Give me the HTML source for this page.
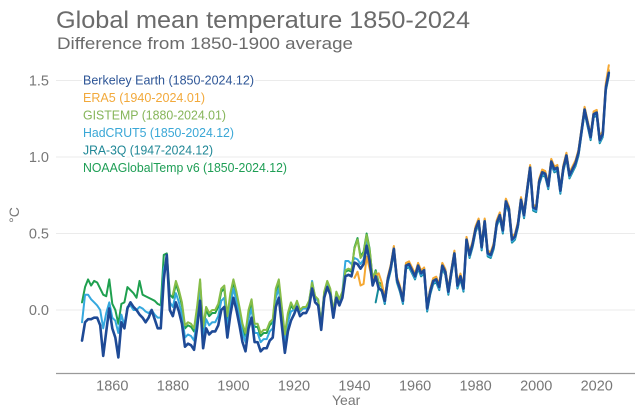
<!DOCTYPE html>
<html>
<head>
<meta charset="utf-8">
<style>
  html,body{margin:0;padding:0;background:#fff;}
  svg{display:block;}
  text{font-family:"Liberation Sans",sans-serif;}
</style>
</head>
<body>
<svg width="640" height="420" viewBox="0 0 640 420" xmlns="http://www.w3.org/2000/svg">
  <rect x="0" y="0" width="640" height="420" fill="#fff"/>

  <!-- Title -->
  <text x="56" y="28" font-size="24" fill="#6b6b6b" textLength="414" lengthAdjust="spacingAndGlyphs">Global mean temperature 1850-2024</text>
  <text x="57" y="49" font-size="17" fill="#6b6b6b" textLength="296" lengthAdjust="spacingAndGlyphs">Difference from 1850-1900 average</text>

  <!-- gridlines -->
  <g stroke="#ebebeb" stroke-width="1">
    <line x1="56" y1="80.5" x2="635" y2="80.5"/>
    <line x1="56" y1="157" x2="635" y2="157"/>
    <line x1="56" y1="233.5" x2="635" y2="233.5"/>
    <line x1="56" y1="310" x2="635" y2="310"/>
  </g>

  <!-- y labels -->
  <g font-size="14.5" fill="#777" text-anchor="end">
    <text x="49" y="85.5">1.5</text>
    <text x="49" y="162">1.0</text>
    <text x="49" y="238.5">0.5</text>
    <text x="49" y="315">0.0</text>
  </g>
  <text transform="translate(19,215) rotate(-90)" font-size="14" fill="#777" text-anchor="middle">°C</text>

  <!-- x axis -->
  <line x1="56" y1="373.5" x2="635" y2="373.5" stroke="#9a9a9a" stroke-width="1.3"/>
  <g font-size="14.5" fill="#777" text-anchor="middle">
    <text x="112.3" y="390.5">1860</text>
    <text x="172.9" y="390.5">1880</text>
    <text x="233.4" y="390.5">1900</text>
    <text x="294" y="390.5">1920</text>
    <text x="354.5" y="390.5">1940</text>
    <text x="415.1" y="390.5">1960</text>
    <text x="475.6" y="390.5">1980</text>
    <text x="536.2" y="390.5">2000</text>
    <text x="596.7" y="390.5">2020</text>
  </g>
  <text x="332" y="405" font-size="14" fill="#777">Year</text>

  <defs>
    <polyline id="late" vector-effect="non-scaling-stroke" points="1950,0.06 1951,0.20 1952,0.28 1953,0.40 1954,0.20 1955,0.14 1956,0.06 1957,0.29 1958,0.30 1959,0.26 1960,0.22 1961,0.29 1962,0.24 1963,0.26 1964,0.01 1965,0.12 1966,0.19 1967,0.20 1968,0.15 1969,0.29 1970,0.25 1971,0.12 1972,0.25 1973,0.37 1974,0.16 1975,0.22 1976,0.14 1977,0.46 1978,0.36 1979,0.43 1980,0.53 1981,0.58 1982,0.41 1983,0.58 1984,0.37 1985,0.36 1986,0.42 1987,0.57 1988,0.62 1989,0.52 1990,0.71 1991,0.66 1992,0.46 1993,0.48 1994,0.56 1995,0.72 1996,0.62 1997,0.78 1998,0.93 1999,0.67 2000,0.66 2001,0.84 2002,0.90 2003,0.89 2004,0.81 2005,0.97 2006,0.92 2007,0.93 2008,0.78 2009,0.93 2010,1.01 2011,0.88 2012,0.92 2013,0.96 2014,1.03 2015,1.17 2016,1.31 2017,1.22 2018,1.13 2019,1.28 2020,1.29 2021,1.11 2022,1.15 2023,1.45 2024,1.55"/>
  </defs>

  <g transform="matrix(3.0275 0 0 -153 -5518.85 310)" fill="none" stroke-linejoin="round" stroke-linecap="round">
    <!-- NOAA -->
    <g stroke="#1fa04f" stroke-width="2">
      <polyline vector-effect="non-scaling-stroke" points="1850,0.05 1851,0.15 1852,0.20 1853,0.16 1854,0.19 1855,0.18 1856,0.14 1857,0.10 1858,0.09 1859,0.20 1860,0.04 1861,0.00 1862,-0.09 1863,0.04 1864,0.05 1865,0.15 1866,0.13 1867,0.11 1868,0.08 1869,0.19 1870,0.10 1871,0.09 1872,0.08 1873,0.07 1874,0.06 1875,0.04 1876,0.03 1877,0.36 1878,0.37 1879,0.10 1880,0.08 1881,0.17 1882,0.11 1883,0.03 1884,-0.12 1885,-0.10 1886,-0.11 1887,-0.14 1888,0.00 1889,0.18 1890,-0.13 1891,0.00 1892,-0.04 1893,-0.02 1894,-0.02 1895,0.02 1896,0.12 1897,0.14 1898,-0.06 1899,0.09 1900,0.18 1901,0.10 1902,0.00 1903,-0.11 1904,-0.17 1905,-0.02 1906,0.05 1907,-0.11 1908,-0.11 1909,-0.17 1910,-0.15 1911,-0.15 1912,-0.10 1913,-0.08 1914,0.12 1915,0.18 1916,0.00 1917,-0.18 1918,-0.04 1919,0.03 1920,0.00 1921,0.05 1922,-0.01 1923,0.01 1924,0.01 1925,0.05 1926,0.17 1927,0.08 1928,0.06 1929,-0.10 1930,0.11 1931,0.18 1932,0.13 1933,-0.02 1934,0.11 1935,0.06 1936,0.11 1937,0.25 1938,0.26 1939,0.25 1940,0.41 1941,0.47 1942,0.35 1943,0.38 1944,0.50 1945,0.40 1946,0.20 1947,0.26 1948,0.18 1949,0.17 1950,0.075"/>
      <use href="#late" transform="translate(0,0.012)"/>
    </g>
    <!-- JRA-3Q -->
    <g stroke="#148a9a" stroke-width="2">
      <polyline vector-effect="non-scaling-stroke" points="1947,0.05 1948,0.15 1949,0.12 1950,0.04"/>
      <use href="#late" transform="translate(0,-0.02)"/>
    </g>
    <!-- HadCRUT5 -->
    <g stroke="#35a8de" stroke-width="2">
      <polyline vector-effect="non-scaling-stroke" points="1850,-0.08 1851,0.10 1852,0.10 1853,0.07 1854,0.05 1855,0.03 1856,0.00 1857,-0.12 1858,-0.02 1859,0.05 1860,-0.05 1861,-0.07 1862,-0.15 1863,-0.03 1864,-0.10 1865,0.02 1866,0.03 1867,0.00 1868,0.00 1869,0.02 1870,0.01 1871,-0.01 1872,-0.02 1873,0.00 1874,-0.03 1875,-0.05 1876,-0.05 1877,0.27 1878,0.33 1879,0.05 1880,0.02 1881,0.11 1882,0.05 1883,-0.03 1884,-0.18 1885,-0.16 1886,-0.17 1887,-0.20 1888,-0.06 1889,0.12 1890,-0.19 1891,-0.06 1892,-0.10 1893,-0.08 1894,-0.08 1895,-0.04 1896,0.06 1897,0.08 1898,-0.12 1899,0.03 1900,0.14 1901,0.06 1902,-0.04 1903,-0.15 1904,-0.21 1905,-0.06 1906,0.01 1907,-0.15 1908,-0.15 1909,-0.21 1910,-0.19 1911,-0.19 1912,-0.14 1913,-0.12 1914,0.08 1915,0.14 1916,-0.04 1917,-0.22 1918,-0.08 1919,-0.01 1920,0.00 1921,0.05 1922,-0.01 1923,0.01 1924,0.01 1925,0.05 1926,0.19 1927,0.08 1928,0.06 1929,-0.10 1930,0.11 1931,0.18 1932,0.13 1933,-0.02 1934,0.11 1935,0.06 1936,0.12 1937,0.32 1938,0.32 1939,0.30 1940,0.34 1941,0.33 1942,0.30 1943,0.33 1944,0.45 1945,0.35 1946,0.19 1947,0.25 1948,0.17 1949,0.15 1950,0.05"/>
      <use href="#late" transform="translate(0,-0.012)"/>
    </g>
    <!-- GISTEMP -->
    <g stroke="#86bd48" stroke-width="2">
      <polyline vector-effect="non-scaling-stroke" points="1880,0.10 1881,0.19 1882,0.13 1883,0.05 1884,-0.10 1885,-0.08 1886,-0.09 1887,-0.12 1888,0.02 1889,0.20 1890,-0.11 1891,0.02 1892,-0.02 1893,0.00 1894,0.00 1895,0.04 1896,0.14 1897,0.16 1898,-0.04 1899,0.11 1900,0.20 1901,0.12 1902,0.02 1903,-0.09 1904,-0.15 1905,0.00 1906,0.07 1907,-0.09 1908,-0.09 1909,-0.15 1910,-0.13 1911,-0.13 1912,-0.08 1913,-0.06 1914,0.14 1915,0.20 1916,0.02 1917,-0.16 1918,-0.02 1919,0.05 1920,0.01 1921,0.06 1922,0.00 1923,0.02 1924,0.02 1925,0.06 1926,0.18 1927,0.09 1928,0.07 1929,-0.09 1930,0.12 1931,0.19 1932,0.14 1933,-0.01 1934,0.12 1935,0.07 1936,0.12 1937,0.26 1938,0.27 1939,0.26 1940,0.40 1941,0.46 1942,0.34 1943,0.37 1944,0.49 1945,0.39 1946,0.21 1947,0.25 1948,0.17 1949,0.16 1950,0.07"/>
      <use href="#late" transform="translate(0,0.008)"/>
    </g>
    <!-- ERA5 -->
    <g stroke="#f5a833" stroke-width="2">
      <polyline vector-effect="non-scaling-stroke" points="1940,0.21 1941,0.25 1942,0.16 1943,0.17 1944,0.35 1945,0.27 1946,0.20 1947,0.22 1948,0.24 1949,0.18 1950,0.08"/>
      <use href="#late" transform="translate(0,0.018)"/>
      <polyline vector-effect="non-scaling-stroke" points="2021,1.13 2022,1.17 2023,1.48 2024,1.60"/>
    </g>
    <!-- Berkeley Earth -->
    <g stroke="#1e4a96" stroke-width="2.6">
      <polyline vector-effect="non-scaling-stroke" points="1850,-0.20 1851,-0.08 1852,-0.06 1853,-0.06 1854,-0.05 1855,-0.05 1856,-0.10 1857,-0.30 1858,-0.14 1859,0.01 1860,-0.12 1861,-0.18 1862,-0.31 1863,-0.08 1864,-0.12 1865,0.01 1866,0.05 1867,0.02 1868,0.00 1869,-0.03 1870,-0.05 1871,-0.08 1872,-0.05 1873,0.00 1874,-0.06 1875,-0.12 1876,-0.12 1877,0.20 1878,0.36 1879,0.00 1880,-0.04 1881,0.05 1882,-0.01 1883,-0.09 1884,-0.24 1885,-0.22 1886,-0.23 1887,-0.26 1888,-0.12 1889,0.06 1890,-0.25 1891,-0.12 1892,-0.16 1893,-0.14 1894,-0.14 1895,-0.10 1896,0.00 1897,0.02 1898,-0.18 1899,-0.03 1900,0.08 1901,0.00 1902,-0.10 1903,-0.21 1904,-0.27 1905,-0.12 1906,-0.05 1907,-0.21 1908,-0.21 1909,-0.27 1910,-0.25 1911,-0.25 1912,-0.20 1913,-0.18 1914,0.02 1915,0.08 1916,-0.10 1917,-0.28 1918,-0.14 1919,-0.07 1920,-0.03 1921,0.02 1922,-0.04 1923,-0.02 1924,-0.02 1925,0.02 1926,0.14 1927,0.05 1928,0.03 1929,-0.13 1930,0.08 1931,0.15 1932,0.10 1933,-0.05 1934,0.08 1935,0.03 1936,0.08 1937,0.22 1938,0.23 1939,0.22 1940,0.31 1941,0.30 1942,0.27 1943,0.30 1944,0.42 1945,0.32 1946,0.16 1947,0.22 1948,0.14 1949,0.13 1950,0.06"/>
      <use href="#late"/>
    </g>
  </g>

  <!-- Legend -->
  <g font-size="12.5" stroke="#fff" stroke-width="4" paint-order="stroke" stroke-linejoin="round">
    <text x="83" y="84.5" fill="#2d5596" textLength="171" lengthAdjust="spacingAndGlyphs">Berkeley Earth (1850-2024.12)</text>
    <text x="83" y="102" fill="#f2a93b" textLength="122" lengthAdjust="spacingAndGlyphs">ERA5 (1940-2024.01)</text>
    <text x="83" y="119.5" fill="#86b55a" textLength="143" lengthAdjust="spacingAndGlyphs">GISTEMP (1880-2024.01)</text>
    <text x="83" y="137" fill="#3aa7d6" textLength="151" lengthAdjust="spacingAndGlyphs">HadCRUT5 (1850-2024.12)</text>
    <text x="83" y="154.5" fill="#1f8796" textLength="130" lengthAdjust="spacingAndGlyphs">JRA-3Q (1947-2024.12)</text>
    <text x="83" y="172" fill="#1e9e55" textLength="204" lengthAdjust="spacingAndGlyphs">NOAAGlobalTemp v6 (1850-2024.12)</text>
  </g>
</svg>
</body>
</html>
